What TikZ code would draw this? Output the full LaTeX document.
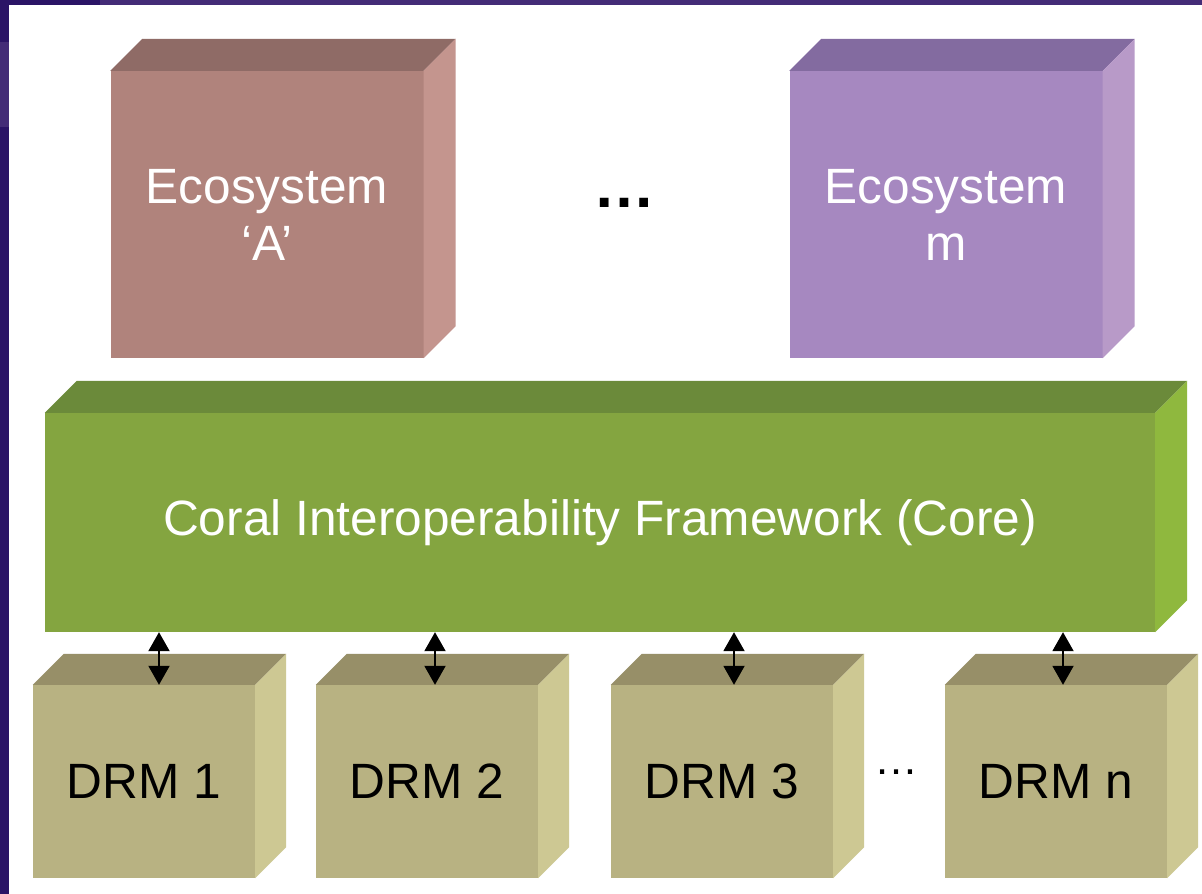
\documentclass[tikz,border=0pt]{standalone}
\usepackage{fontspec}
\setmainfont{Liberation Sans}
\usetikzlibrary{arrows.meta}

\definecolor{frameA}{HTML}{2B1466}
\definecolor{frameB}{HTML}{442C77}
\definecolor{ecoAfront}{HTML}{B0837C}
\definecolor{ecoAtop}{HTML}{8F6B66}
\definecolor{ecoAside}{HTML}{C4958E}
\definecolor{ecoMfront}{HTML}{A688C0}
\definecolor{ecoMtop}{HTML}{836BA0}
\definecolor{ecoMside}{HTML}{B89AC8}
\definecolor{coreFront}{HTML}{84A540}
\definecolor{coreTop}{HTML}{6B8A3A}
\definecolor{coreSide}{HTML}{8FB83E}
\definecolor{drmFront}{HTML}{B8B282}
\definecolor{drmTop}{HTML}{978F68}
\definecolor{drmSide}{HTML}{CDC893}

\tikzset{
  front/.style={inner sep=0pt, align=center, font=\fontsize{49.6}{57}\selectfont},
  eco/.style={front, text=white, minimum width=313pt, minimum height=287pt},
  drm/.style={front, text=black, fill=drmFront, minimum width=222pt, minimum height=193pt},
  link/.style={{Triangle[length=19pt,width=21pt]}-{Triangle[length=19pt,width=21pt]}, line width=2pt}
}

\begin{document}
\begin{tikzpicture}[x=1pt,y=1pt]
      \useasboundingbox (0,0) rectangle (1202,894);
      % frame
      \fill[frameB] (0,0) rectangle (1202,894);
      \fill[frameA] (0,0) rectangle (9,767);
      \fill[frameA] (0,852) rectangle (9,894);
      \fill[frameA] (0,889) rectangle (100,894);
      \fill[white] (9,0) rectangle (1202,889);

      % ecosystems
      \node[eco, fill=ecoAfront] (ecoA) at (267,679.5) {Ecosystem\\‘A’};
      \fill[ecoAtop] (ecoA.north west) -- ++(32,32) -- ([shift={(32,32)}]ecoA.north east) -- (ecoA.north east) -- cycle;
      \fill[ecoAside] (ecoA.north east) -- ++(32,32) -- ([shift={(32,32)}]ecoA.south east) -- (ecoA.south east) -- cycle;

      \node[eco, fill=ecoMfront] (ecoM) at (946,679.5) {Ecosystem\\m};
      \fill[ecoMtop] (ecoM.north west) -- ++(32,32) -- ([shift={(32,32)}]ecoM.north east) -- (ecoM.north east) -- cycle;
      \fill[ecoMside] (ecoM.north east) -- ++(32,32) -- ([shift={(32,32)}]ecoM.south east) -- (ecoM.south east) -- cycle;

      \node[font=\fontsize{62}{70}\selectfont\bfseries] (ecoDots) at (624,691) {…};

      % core
      \node[front, text=white, fill=coreFront, minimum width=1110pt, minimum height=219pt] (core) at (600,371.5) {Coral Interoperability Framework (Core)};
      \fill[coreTop] (core.north west) -- ++(32,32) -- ([shift={(32,32)}]core.north east) -- (core.north east) -- cycle;
      \fill[coreSide] (core.north east) -- ++(32,32) -- ([shift={(32,32)}]core.south east) -- (core.south east) -- cycle;

      % DRMs
      \node[drm] (drm1) at (144,112.5) {DRM 1};
      \fill[drmTop] (drm1.north west) -- ++(31,31) -- ([shift={(31,31)}]drm1.north east) -- (drm1.north east) -- cycle;
      \fill[drmSide] (drm1.north east) -- ++(31,31) -- ([shift={(31,31)}]drm1.south east) -- (drm1.south east) -- cycle;

      \node[drm] (drm2) at (427,112.5) {DRM 2};
      \fill[drmTop] (drm2.north west) -- ++(31,31) -- ([shift={(31,31)}]drm2.north east) -- (drm2.north east) -- cycle;
      \fill[drmSide] (drm2.north east) -- ++(31,31) -- ([shift={(31,31)}]drm2.south east) -- (drm2.south east) -- cycle;

      \node[drm] (drm3) at (722,112.5) {DRM 3};
      \fill[drmTop] (drm3.north west) -- ++(31,31) -- ([shift={(31,31)}]drm3.north east) -- (drm3.north east) -- cycle;
      \fill[drmSide] (drm3.north east) -- ++(31,31) -- ([shift={(31,31)}]drm3.south east) -- (drm3.south east) -- cycle;

      \node[drm] (drmN) at (1056,112.5) {DRM n};
      \fill[drmTop] (drmN.north west) -- ++(31,31) -- ([shift={(31,31)}]drmN.north east) -- (drmN.north east) -- cycle;
      \fill[drmSide] (drmN.north east) -- ++(31,31) -- ([shift={(31,31)}]drmN.south east) -- (drmN.south east) -- cycle;

      \node[font=\fontsize{44}{50}\selectfont] (drmDots) at (896,122) {…};

      % links
      \draw[link] ([xshift=15pt]drm1.north |- core.south) -- ([xshift=15pt]drm1.north);
      \draw[link] ([xshift=8pt]drm2.north |- core.south) -- ([xshift=8pt]drm2.north);
      \draw[link] ([xshift=12pt]drm3.north |- core.south) -- ([xshift=12pt]drm3.north);
      \draw[link] ([xshift=7pt]drmN.north |- core.south) -- ([xshift=7pt]drmN.north);
\end{tikzpicture}
\end{document}
